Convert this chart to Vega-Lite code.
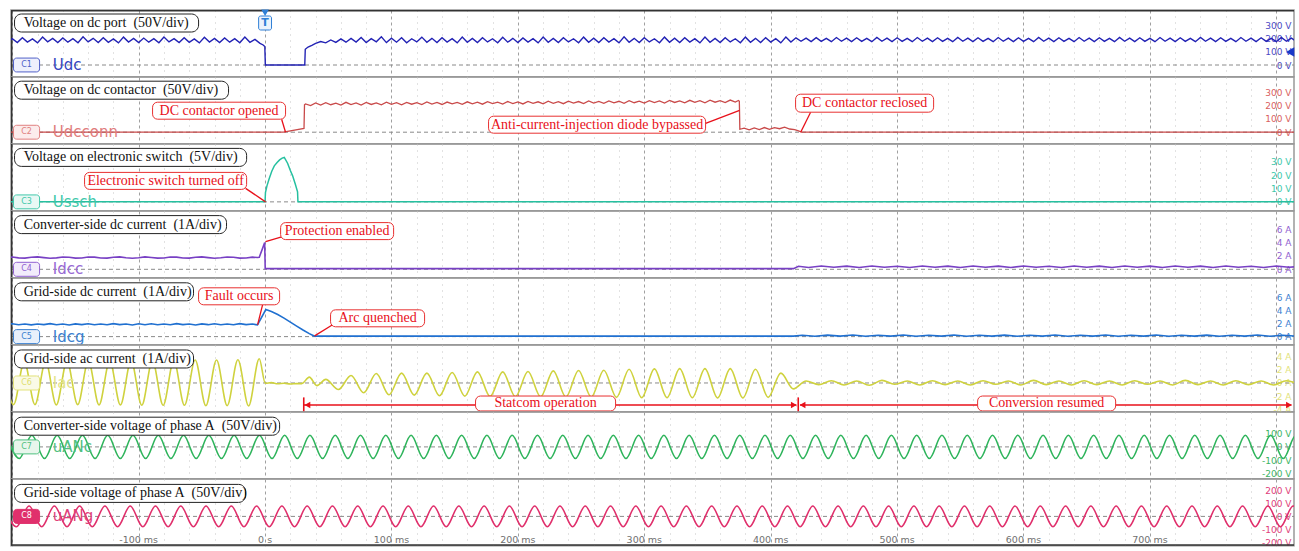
{
"$schema": "https://vega.github.io/schema/vega-lite/v6.json",
"background": "white",
"padding": {"left": 8, "top": 8, "right": 8, "bottom": 8},
"spacing": 0,
"bounds": "flush",
"config": {"view": {"stroke": "#999999", "strokeWidth": 1.5}},
"datasets": {
"udc": [{"t":-204,"v":170},{"t":-200,"v":198},{"t":-196,"v":168},{"t":-192,"v":205},{"t":-188,"v":172},{"t":-184,"v":196},{"t":-180,"v":166},{"t":-176,"v":210},{"t":-172,"v":174},{"t":-168,"v":199},{"t":-164,"v":169},{"t":-160,"v":203},{"t":-156,"v":171},{"t":-152,"v":197},{"t":-148,"v":167},{"t":-144,"v":211},{"t":-140,"v":173},{"t":-136,"v":200},{"t":-132,"v":168},{"t":-128,"v":204},{"t":-124,"v":170},{"t":-120,"v":196},{"t":-116,"v":166},{"t":-112,"v":209},{"t":-108,"v":172},{"t":-104,"v":199},{"t":-100,"v":169},{"t":-96,"v":202},{"t":-92,"v":171},{"t":-88,"v":197},{"t":-84,"v":167},{"t":-80,"v":210},{"t":-76,"v":173},{"t":-72,"v":198},{"t":-68,"v":168},{"t":-64,"v":205},{"t":-60,"v":170},{"t":-56,"v":196},{"t":-52,"v":166},{"t":-48,"v":208},{"t":-44,"v":172},{"t":-40,"v":199},{"t":-36,"v":169},{"t":-32,"v":203},{"t":-28,"v":171},{"t":-24,"v":197},{"t":-20,"v":167},{"t":-16,"v":209},{"t":-12,"v":170},{"t":-8,"v":192},{"t":-4,"v":162},{"t":-1.5,"v":150},{"t":-0.2,"v":138},{"t":0.2,"v":0},{"t":31.4,"v":0},{"t":31.8,"v":118},{"t":34,"v":135},{"t":37,"v":148},{"t":40,"v":162},{"t":44,"v":176},{"t":48,"v":166},{"t":52,"v":188},{"t":56,"v":170},{"t":60,"v":196},{"t":64,"v":171},{"t":68,"v":200},{"t":72,"v":172},{"t":76,"v":206},{"t":80,"v":169},{"t":84,"v":198},{"t":88,"v":174},{"t":92,"v":211},{"t":96,"v":168},{"t":100,"v":201},{"t":104,"v":171},{"t":108,"v":204},{"t":112,"v":167},{"t":116,"v":197},{"t":120,"v":173},{"t":124,"v":209},{"t":128,"v":170},{"t":132,"v":200},{"t":136,"v":168},{"t":140,"v":205},{"t":144,"v":172},{"t":148,"v":198},{"t":152,"v":166},{"t":156,"v":210},{"t":160,"v":171},{"t":164,"v":199},{"t":168,"v":169},{"t":172,"v":204},{"t":176,"v":173},{"t":180,"v":197},{"t":184,"v":167},{"t":188,"v":208},{"t":192,"v":171},{"t":196,"v":200},{"t":200,"v":169},{"t":204,"v":203},{"t":208,"v":172},{"t":212,"v":198},{"t":216,"v":166},{"t":220,"v":210},{"t":224,"v":170},{"t":228,"v":199},{"t":232,"v":168},{"t":236,"v":205},{"t":240,"v":173},{"t":244,"v":197},{"t":248,"v":167},{"t":252,"v":209},{"t":256,"v":171},{"t":260,"v":201},{"t":264,"v":169},{"t":268,"v":204},{"t":272,"v":172},{"t":276,"v":198},{"t":280,"v":166},{"t":284,"v":211},{"t":288,"v":170},{"t":292,"v":200},{"t":296,"v":168},{"t":300,"v":205},{"t":304,"v":173},{"t":308,"v":197},{"t":312,"v":167},{"t":316,"v":209},{"t":320,"v":171},{"t":324,"v":201},{"t":328,"v":169},{"t":332,"v":204},{"t":336,"v":172},{"t":340,"v":198},{"t":344,"v":166},{"t":348,"v":210},{"t":352,"v":170},{"t":356,"v":199},{"t":360,"v":168},{"t":364,"v":205},{"t":368,"v":173},{"t":372,"v":197},{"t":376,"v":167},{"t":380,"v":209},{"t":384,"v":171},{"t":388,"v":200},{"t":392,"v":169},{"t":396,"v":204},{"t":400,"v":172},{"t":404,"v":198},{"t":408,"v":166},{"t":412,"v":210},{"t":416,"v":172},{"t":420,"v":204},{"t":424,"v":178},{"t":428,"v":202},{"t":432,"v":176},{"t":436,"v":205},{"t":440,"v":177},{"t":444,"v":200},{"t":448,"v":175},{"t":452,"v":206},{"t":456,"v":178},{"t":460,"v":201},{"t":464,"v":176},{"t":468,"v":204},{"t":472,"v":177},{"t":476,"v":200},{"t":480,"v":175},{"t":484,"v":207},{"t":488,"v":178},{"t":492,"v":201},{"t":496,"v":176},{"t":500,"v":204},{"t":504,"v":177},{"t":508,"v":200},{"t":512,"v":175},{"t":516,"v":206},{"t":520,"v":178},{"t":524,"v":201},{"t":528,"v":176},{"t":532,"v":204},{"t":536,"v":177},{"t":540,"v":200},{"t":544,"v":175},{"t":548,"v":207},{"t":552,"v":178},{"t":556,"v":201},{"t":560,"v":176},{"t":564,"v":204},{"t":568,"v":177},{"t":572,"v":200},{"t":576,"v":175},{"t":580,"v":206},{"t":584,"v":178},{"t":588,"v":201},{"t":592,"v":176},{"t":596,"v":204},{"t":600,"v":177},{"t":604,"v":200},{"t":608,"v":175},{"t":612,"v":207},{"t":616,"v":178},{"t":620,"v":201},{"t":624,"v":176},{"t":628,"v":204},{"t":632,"v":177},{"t":636,"v":200},{"t":640,"v":175},{"t":644,"v":206},{"t":648,"v":178},{"t":652,"v":201},{"t":656,"v":176},{"t":660,"v":204},{"t":664,"v":177},{"t":668,"v":200},{"t":672,"v":175},{"t":676,"v":207},{"t":680,"v":178},{"t":684,"v":201},{"t":688,"v":176},{"t":692,"v":204},{"t":696,"v":177},{"t":700,"v":200},{"t":704,"v":175},{"t":708,"v":206},{"t":712,"v":178},{"t":716,"v":201},{"t":720,"v":176},{"t":724,"v":204},{"t":728,"v":177},{"t":732,"v":200},{"t":736,"v":175},{"t":740,"v":207},{"t":744,"v":178},{"t":748,"v":201},{"t":752,"v":176},{"t":756,"v":204},{"t":760,"v":177},{"t":764,"v":200},{"t":768,"v":175},{"t":772,"v":206},{"t":776,"v":178},{"t":780,"v":201},{"t":784,"v":176},{"t":788,"v":204},{"t":792,"v":177},{"t":796,"v":200},{"t":800,"v":175},{"t":804,"v":207},{"t":808,"v":178},{"t":812,"v":201},{"t":816,"v":176}],
"udcc": [{"t":-205,"v":0},{"t":14.5,"v":0},{"t":30.8,"v":28},{"t":31.2,"v":205},{"t":32,"v":212},{"t":36,"v":200},{"t":40,"v":220},{"t":44,"v":204},{"t":48,"v":222},{"t":52,"v":206},{"t":56,"v":218},{"t":60,"v":203},{"t":64,"v":224},{"t":68,"v":207},{"t":72,"v":219},{"t":76,"v":204},{"t":80,"v":223},{"t":84,"v":208},{"t":88,"v":220},{"t":92,"v":205},{"t":96,"v":225},{"t":100,"v":209},{"t":104,"v":221},{"t":108,"v":206},{"t":112,"v":224},{"t":116,"v":210},{"t":120,"v":222},{"t":124,"v":207},{"t":128,"v":227},{"t":132,"v":211},{"t":136,"v":223},{"t":140,"v":208},{"t":144,"v":226},{"t":148,"v":212},{"t":152,"v":224},{"t":156,"v":209},{"t":160,"v":228},{"t":164,"v":213},{"t":168,"v":225},{"t":172,"v":210},{"t":176,"v":229},{"t":180,"v":214},{"t":184,"v":226},{"t":188,"v":211},{"t":192,"v":230},{"t":196,"v":215},{"t":200,"v":227},{"t":204,"v":212},{"t":208,"v":231},{"t":212,"v":216},{"t":216,"v":228},{"t":220,"v":213},{"t":224,"v":232},{"t":228,"v":217},{"t":232,"v":229},{"t":236,"v":214},{"t":240,"v":233},{"t":244,"v":218},{"t":248,"v":230},{"t":252,"v":215},{"t":256,"v":234},{"t":260,"v":219},{"t":264,"v":231},{"t":268,"v":216},{"t":272,"v":235},{"t":276,"v":220},{"t":280,"v":232},{"t":284,"v":217},{"t":288,"v":236},{"t":292,"v":221},{"t":296,"v":233},{"t":300,"v":218},{"t":304,"v":237},{"t":308,"v":222},{"t":312,"v":234},{"t":316,"v":219},{"t":320,"v":238},{"t":324,"v":223},{"t":328,"v":235},{"t":332,"v":220},{"t":336,"v":239},{"t":340,"v":224},{"t":344,"v":236},{"t":348,"v":221},{"t":352,"v":240},{"t":356,"v":225},{"t":360,"v":237},{"t":364,"v":222},{"t":368,"v":241},{"t":372,"v":226},{"t":374.5,"v":238},{"t":375.2,"v":232},{"t":375.6,"v":22},{"t":379,"v":30},{"t":383,"v":18},{"t":387,"v":32},{"t":391,"v":20},{"t":395,"v":35},{"t":399,"v":22},{"t":403,"v":34},{"t":407,"v":26},{"t":411,"v":38},{"t":415,"v":24},{"t":419,"v":20},{"t":422,"v":10},{"t":424.5,"v":0},{"t":816,"v":0}],
"ussch": [{"t":-205,"v":0},{"t":0,"v":0},{"t":0.3,"v":7},{"t":1.5,"v":12},{"t":3.3,"v":17.5},{"t":5.3,"v":23},{"t":7.3,"v":27},{"t":9.5,"v":29.5},{"t":11.5,"v":31.5},{"t":13.5,"v":32.8},{"t":15.2,"v":33.3},{"t":17.8,"v":29},{"t":20,"v":23.5},{"t":21.8,"v":19.5},{"t":24,"v":13},{"t":25.7,"v":7.5},{"t":26,"v":0},{"t":816,"v":0}],
"idcc": [{"t":-205,"v":1.75},{"t":-200,"v":1.85},{"t":-195,"v":1.72},{"t":-190,"v":1.68},{"t":-185,"v":1.8},{"t":-180,"v":1.86},{"t":-175,"v":1.75},{"t":-170,"v":1.66},{"t":-165,"v":1.72},{"t":-160,"v":1.85},{"t":-155,"v":1.8},{"t":-150,"v":1.68},{"t":-145,"v":1.7},{"t":-140,"v":1.84},{"t":-135,"v":1.82},{"t":-130,"v":1.69},{"t":-125,"v":1.68},{"t":-120,"v":1.8},{"t":-115,"v":1.86},{"t":-110,"v":1.74},{"t":-105,"v":1.66},{"t":-100,"v":1.74},{"t":-95,"v":1.86},{"t":-90,"v":1.78},{"t":-85,"v":1.67},{"t":-80,"v":1.7},{"t":-75,"v":1.84},{"t":-70,"v":1.83},{"t":-65,"v":1.7},{"t":-60,"v":1.67},{"t":-55,"v":1.8},{"t":-50,"v":1.86},{"t":-45,"v":1.75},{"t":-40,"v":1.66},{"t":-35,"v":1.73},{"t":-30,"v":1.85},{"t":-25,"v":1.8},{"t":-20,"v":1.68},{"t":-15,"v":1.7},{"t":-10,"v":1.82},{"t":-6,"v":1.76},{"t":-4.6,"v":1.8},{"t":-0.3,"v":4.0},{"t":0.1,"v":0.1},{"t":418,"v":0.1},{"t":422,"v":0.45},{"t":430,"v":0.28},{"t":440,"v":0.5},{"t":450,"v":0.3},{"t":460,"v":0.48},{"t":470,"v":0.26},{"t":480,"v":0.5},{"t":490,"v":0.3},{"t":500,"v":0.46},{"t":510,"v":0.28},{"t":520,"v":0.5},{"t":530,"v":0.3},{"t":540,"v":0.48},{"t":550,"v":0.27},{"t":560,"v":0.5},{"t":570,"v":0.3},{"t":580,"v":0.47},{"t":590,"v":0.28},{"t":600,"v":0.5},{"t":610,"v":0.3},{"t":620,"v":0.46},{"t":630,"v":0.27},{"t":640,"v":0.5},{"t":650,"v":0.3},{"t":660,"v":0.48},{"t":670,"v":0.28},{"t":680,"v":0.5},{"t":690,"v":0.3},{"t":700,"v":0.47},{"t":710,"v":0.27},{"t":720,"v":0.5},{"t":730,"v":0.3},{"t":740,"v":0.48},{"t":750,"v":0.28},{"t":760,"v":0.5},{"t":770,"v":0.3},{"t":780,"v":0.46},{"t":790,"v":0.28},{"t":800,"v":0.5},{"t":810,"v":0.3},{"t":816,"v":0.4}],
"idcg": [{"t":-205,"v":1.85},{"t":-200,"v":1.95},{"t":-195,"v":1.8},{"t":-190,"v":1.92},{"t":-185,"v":1.78},{"t":-180,"v":1.9},{"t":-175,"v":1.82},{"t":-170,"v":1.96},{"t":-165,"v":1.8},{"t":-160,"v":1.9},{"t":-155,"v":1.76},{"t":-150,"v":1.93},{"t":-145,"v":1.82},{"t":-140,"v":1.95},{"t":-135,"v":1.79},{"t":-130,"v":1.9},{"t":-125,"v":1.8},{"t":-120,"v":1.96},{"t":-115,"v":1.82},{"t":-110,"v":1.9},{"t":-105,"v":1.77},{"t":-100,"v":1.94},{"t":-95,"v":1.81},{"t":-90,"v":1.95},{"t":-85,"v":1.79},{"t":-80,"v":1.9},{"t":-75,"v":1.8},{"t":-70,"v":1.96},{"t":-65,"v":1.82},{"t":-60,"v":1.9},{"t":-55,"v":1.77},{"t":-50,"v":1.93},{"t":-45,"v":1.81},{"t":-40,"v":1.95},{"t":-35,"v":1.79},{"t":-30,"v":1.9},{"t":-25,"v":1.8},{"t":-20,"v":1.96},{"t":-15,"v":1.82},{"t":-10,"v":1.9},{"t":-6,"v":1.78},{"t":0.6,"v":4.1},{"t":5,"v":3.8},{"t":10,"v":3.35},{"t":15,"v":2.8},{"t":20,"v":2.2},{"t":25,"v":1.6},{"t":30,"v":1.0},{"t":35,"v":0.45},{"t":38.9,"v":0.08},{"t":418,"v":0.08},{"t":425,"v":0.2},{"t":435,"v":0.05},{"t":445,"v":0.22},{"t":455,"v":0.08},{"t":465,"v":0.25},{"t":475,"v":0.05},{"t":485,"v":0.2},{"t":495,"v":0.08},{"t":505,"v":0.24},{"t":515,"v":0.06},{"t":525,"v":0.2},{"t":535,"v":0.08},{"t":545,"v":0.25},{"t":555,"v":0.05},{"t":565,"v":0.2},{"t":575,"v":0.08},{"t":585,"v":0.23},{"t":595,"v":0.06},{"t":605,"v":0.2},{"t":615,"v":0.08},{"t":625,"v":0.25},{"t":635,"v":0.05},{"t":645,"v":0.2},{"t":655,"v":0.08},{"t":665,"v":0.24},{"t":675,"v":0.06},{"t":685,"v":0.2},{"t":695,"v":0.08},{"t":705,"v":0.25},{"t":715,"v":0.05},{"t":725,"v":0.2},{"t":735,"v":0.08},{"t":745,"v":0.23},{"t":755,"v":0.06},{"t":765,"v":0.2},{"t":775,"v":0.08},{"t":785,"v":0.25},{"t":795,"v":0.05},{"t":805,"v":0.2},{"t":815,"v":0.08}],
"iac": [{"t":-207.4,"v":3.2},{"t":-198.95,"v":-3.3},{"t":-190.5,"v":3.25},{"t":-182.05,"v":-3.3},{"t":-173.6,"v":3.3},{"t":-165.15,"v":-3.35},{"t":-156.7,"v":3.3},{"t":-148.25,"v":-3.3},{"t":-139.8,"v":3.35},{"t":-131.35,"v":-3.35},{"t":-122.9,"v":3.35},{"t":-114.45,"v":-3.35},{"t":-106,"v":3.4},{"t":-97.55,"v":-3.4},{"t":-89.1,"v":3.4},{"t":-80.65,"v":-3.4},{"t":-72.2,"v":3.45},{"t":-63.75,"v":-3.4},{"t":-55.3,"v":3.5},{"t":-46.85,"v":-3.45},{"t":-38.4,"v":3.5},{"t":-29.95,"v":-3.45},{"t":-21.5,"v":3.55},{"t":-13.05,"v":-3.5},{"t":-4.6,"v":3.7},{"t":0.2,"v":-0.05},{"t":5,"v":0.05},{"t":10,"v":-0.12},{"t":15,"v":-0.05},{"t":20,"v":-0.15},{"t":25,"v":-0.1},{"t":29,"v":-0.1},{"t":35,"v":0.9},{"t":41,"v":-0.4},{"t":48,"v":0.55},{"t":58,"v":-1.0},{"t":68,"v":1.15},{"t":78,"v":-1.5},{"t":88,"v":1.45},{"t":98,"v":-1.8},{"t":108,"v":1.5},{"t":118,"v":-1.85},{"t":128,"v":1.5},{"t":138,"v":-1.95},{"t":148,"v":1.6},{"t":158,"v":-2.0},{"t":168,"v":1.7},{"t":178,"v":-2.05},{"t":188,"v":1.7},{"t":198,"v":-2.1},{"t":208,"v":1.75},{"t":218,"v":-2.1},{"t":228,"v":1.85},{"t":238,"v":-2.15},{"t":248,"v":1.9},{"t":258,"v":-2.15},{"t":268,"v":1.95},{"t":278,"v":-2.2},{"t":288,"v":2.1},{"t":298,"v":-2.25},{"t":308,"v":2.15},{"t":318,"v":-2.25},{"t":328,"v":2.2},{"t":338,"v":-2.25},{"t":348,"v":2.2},{"t":358,"v":-2.3},{"t":368,"v":2.2},{"t":378,"v":-2.3},{"t":388,"v":2.1},{"t":398,"v":-2.2},{"t":408,"v":1.5},{"t":418,"v":-0.9},{"t":428,"v":0.3},{"t":438,"v":-0.25},{"t":448,"v":0.35},{"t":458,"v":-0.3},{"t":468,"v":0.3},{"t":478,"v":-0.35},{"t":488,"v":0.4},{"t":498,"v":-0.2},{"t":508,"v":0.3},{"t":518,"v":-0.3},{"t":528,"v":0.35},{"t":538,"v":-0.25},{"t":548,"v":0.3},{"t":558,"v":-0.3},{"t":568,"v":0.35},{"t":578,"v":-0.2},{"t":588,"v":0.3},{"t":598,"v":-0.3},{"t":608,"v":0.4},{"t":618,"v":-0.25},{"t":628,"v":0.3},{"t":638,"v":-0.3},{"t":648,"v":0.35},{"t":658,"v":-0.25},{"t":668,"v":0.3},{"t":678,"v":-0.3},{"t":688,"v":0.35},{"t":698,"v":-0.2},{"t":708,"v":0.3},{"t":718,"v":-0.3},{"t":728,"v":0.4},{"t":738,"v":-0.25},{"t":748,"v":0.3},{"t":758,"v":-0.3},{"t":768,"v":0.35},{"t":778,"v":-0.25},{"t":788,"v":0.3},{"t":798,"v":-0.3},{"t":808,"v":0.35},{"t":818,"v":-0.25}],
"uanc": [{"t":-204.5,"v":88},{"t":-194.5,"v":-88},{"t":-184.5,"v":88},{"t":-174.5,"v":-88},{"t":-164.5,"v":88},{"t":-154.5,"v":-88},{"t":-144.5,"v":88},{"t":-134.5,"v":-88},{"t":-124.5,"v":88},{"t":-114.5,"v":-88},{"t":-104.5,"v":88},{"t":-94.5,"v":-88},{"t":-84.5,"v":88},{"t":-74.5,"v":-88},{"t":-64.5,"v":88},{"t":-54.5,"v":-88},{"t":-44.5,"v":88},{"t":-34.5,"v":-88},{"t":-24.5,"v":88},{"t":-14.5,"v":-88},{"t":-4.5,"v":88},{"t":5.5,"v":-88},{"t":15.5,"v":88},{"t":25.5,"v":-88},{"t":35.5,"v":88},{"t":45.5,"v":-88},{"t":55.5,"v":88},{"t":65.5,"v":-88},{"t":75.5,"v":88},{"t":85.5,"v":-88},{"t":95.5,"v":88},{"t":105.5,"v":-88},{"t":115.5,"v":88},{"t":125.5,"v":-88},{"t":135.5,"v":88},{"t":145.5,"v":-88},{"t":155.5,"v":88},{"t":165.5,"v":-88},{"t":175.5,"v":88},{"t":185.5,"v":-88},{"t":195.5,"v":88},{"t":205.5,"v":-88},{"t":215.5,"v":88},{"t":225.5,"v":-88},{"t":235.5,"v":88},{"t":245.5,"v":-88},{"t":255.5,"v":88},{"t":265.5,"v":-88},{"t":275.5,"v":88},{"t":285.5,"v":-88},{"t":295.5,"v":88},{"t":305.5,"v":-88},{"t":315.5,"v":88},{"t":325.5,"v":-88},{"t":335.5,"v":88},{"t":345.5,"v":-88},{"t":355.5,"v":88},{"t":365.5,"v":-88},{"t":375.5,"v":88},{"t":385.5,"v":-88},{"t":395.5,"v":88},{"t":405.5,"v":-88},{"t":415.5,"v":88},{"t":425.5,"v":-88},{"t":435.5,"v":88},{"t":445.5,"v":-88},{"t":455.5,"v":88},{"t":465.5,"v":-88},{"t":475.5,"v":88},{"t":485.5,"v":-88},{"t":495.5,"v":88},{"t":505.5,"v":-88},{"t":515.5,"v":88},{"t":525.5,"v":-88},{"t":535.5,"v":88},{"t":545.5,"v":-88},{"t":555.5,"v":88},{"t":565.5,"v":-88},{"t":575.5,"v":88},{"t":585.5,"v":-88},{"t":595.5,"v":88},{"t":605.5,"v":-88},{"t":615.5,"v":88},{"t":625.5,"v":-88},{"t":635.5,"v":88},{"t":645.5,"v":-88},{"t":655.5,"v":88},{"t":665.5,"v":-88},{"t":675.5,"v":88},{"t":685.5,"v":-88},{"t":695.5,"v":88},{"t":705.5,"v":-88},{"t":715.5,"v":88},{"t":725.5,"v":-88},{"t":735.5,"v":88},{"t":745.5,"v":-88},{"t":755.5,"v":88},{"t":765.5,"v":-88},{"t":775.5,"v":88},{"t":785.5,"v":-88},{"t":795.5,"v":88},{"t":805.5,"v":-88},{"t":815.5,"v":88},{"t":825.5,"v":-88}],
"uang": [{"t":-206.7,"v":80},{"t":-196.7,"v":-80},{"t":-186.7,"v":80},{"t":-176.7,"v":-80},{"t":-166.7,"v":80},{"t":-156.7,"v":-80},{"t":-146.7,"v":80},{"t":-136.7,"v":-80},{"t":-126.7,"v":80},{"t":-116.7,"v":-80},{"t":-106.7,"v":80},{"t":-96.7,"v":-80},{"t":-86.7,"v":80},{"t":-76.7,"v":-80},{"t":-66.7,"v":80},{"t":-56.7,"v":-80},{"t":-46.7,"v":80},{"t":-36.7,"v":-80},{"t":-26.7,"v":80},{"t":-16.7,"v":-80},{"t":-6.7,"v":80},{"t":3.3,"v":-80},{"t":13.3,"v":80},{"t":23.3,"v":-80},{"t":33.3,"v":80},{"t":43.3,"v":-80},{"t":53.3,"v":80},{"t":63.3,"v":-80},{"t":73.3,"v":80},{"t":83.3,"v":-80},{"t":93.3,"v":80},{"t":103.3,"v":-80},{"t":113.3,"v":80},{"t":123.3,"v":-80},{"t":133.3,"v":80},{"t":143.3,"v":-80},{"t":153.3,"v":80},{"t":163.3,"v":-80},{"t":173.3,"v":80},{"t":183.3,"v":-80},{"t":193.3,"v":80},{"t":203.3,"v":-80},{"t":213.3,"v":80},{"t":223.3,"v":-80},{"t":233.3,"v":80},{"t":243.3,"v":-80},{"t":253.3,"v":80},{"t":263.3,"v":-80},{"t":273.3,"v":80},{"t":283.3,"v":-80},{"t":293.3,"v":80},{"t":303.3,"v":-80},{"t":313.3,"v":80},{"t":323.3,"v":-80},{"t":333.3,"v":80},{"t":343.3,"v":-80},{"t":353.3,"v":80},{"t":363.3,"v":-80},{"t":373.3,"v":80},{"t":383.3,"v":-80},{"t":393.3,"v":80},{"t":403.3,"v":-80},{"t":413.3,"v":80},{"t":423.3,"v":-80},{"t":433.3,"v":80},{"t":443.3,"v":-80},{"t":453.3,"v":80},{"t":463.3,"v":-80},{"t":473.3,"v":80},{"t":483.3,"v":-80},{"t":493.3,"v":80},{"t":503.3,"v":-80},{"t":513.3,"v":80},{"t":523.3,"v":-80},{"t":533.3,"v":80},{"t":543.3,"v":-80},{"t":553.3,"v":80},{"t":563.3,"v":-80},{"t":573.3,"v":80},{"t":583.3,"v":-80},{"t":593.3,"v":80},{"t":603.3,"v":-80},{"t":613.3,"v":80},{"t":623.3,"v":-80},{"t":633.3,"v":80},{"t":643.3,"v":-80},{"t":653.3,"v":80},{"t":663.3,"v":-80},{"t":673.3,"v":80},{"t":683.3,"v":-80},{"t":693.3,"v":80},{"t":703.3,"v":-80},{"t":713.3,"v":80},{"t":723.3,"v":-80},{"t":733.3,"v":80},{"t":743.3,"v":-80},{"t":753.3,"v":80},{"t":763.3,"v":-80},{"t":773.3,"v":80},{"t":783.3,"v":-80},{"t":793.3,"v":80},{"t":803.3,"v":-80},{"t":813.3,"v":80},{"t":823.3,"v":-80}]
},
"vconcat": [
{"width": 1283, "height": 66.8,
"encoding": {
"x": {"field": "t", "type": "quantitative", "scale": {"domain": [-201, 814], "nice": false, "zero": false}, "axis": {"tickCount": 51, "labels": false, "ticks": false, "domain": false, "title": null, "grid": true, "gridColor": {"condition": {"test": "datum.value % 100 === 0", "value": "#a0a0a0"}, "value": "#c4c4c4"}, "gridDash": {"condition": {"test": "datum.value % 100 === 0", "value": [3, 3]}, "value": [1, 5]}}},
"y": {"field": "v", "type": "quantitative", "scale": {"domain": [-88.5, 412.5], "nice": false, "zero": false}, "axis": {"orient": "right", "offset": -3, "values": [0, 100, 200, 300], "labelExpr": "datum.value + ' V'", "labelAlign": "right", "labelPadding": 0, "ticks": false, "domain": false, "grid": false, "title": null, "labelColor": "#4a4ac4", "labelFont": "DejaVu Sans", "labelFontSize": 9, "labelOverlap": false}}},
"layer": [
{"data": {"values": [{"t": -201, "v": 0}, {"t": 814, "v": 0}]}, "mark": {"type": "line", "color": "#8a8a8a", "strokeDash": [4, 3], "strokeWidth": 1}},
{"data": {"values": [{"t": -201, "v": -88.5, "g": "a"}, {"t": -201, "v": 412.5, "g": "a"}, {"t": -201, "v": 412.5, "g": "b"}, {"t": 814, "v": 412.5, "g": "b"}]}, "mark": {"type": "line", "color": "#333", "strokeWidth": 3, "clip": true}, "encoding": {"detail": {"field": "g", "type": "nominal"}}},
{"data": {"name": "udc"}, "mark": {"type": "line", "color": "#2222b4", "strokeWidth": 1.4, "clip": true}},
{"data": {"values": [{"t": -198.2, "t2": -52.6, "v": 382.5, "v2": 247.5}]}, "mark": {"type": "rect", "fill": "white", "stroke": "#222", "strokeWidth": 1, "cornerRadius": 7}, "encoding": {"x2": {"field": "t2"}, "y2": {"field": "v2"}}},
{"data": {"values": [{"t": -191, "v": 315, "s": "Voltage on dc port\u00a0 (50V/div)"}]}, "mark": {"type": "text", "align": "left", "baseline": "middle", "font": "Liberation Serif", "fontSize": 14, "color": "#111"}, "encoding": {"text": {"field": "s", "type": "nominal"}}},
{"data": {"values": [{"t": -199, "t2": -178.4, "v": 52, "v2": -52}]}, "mark": {"type": "rect", "fill": "#eef0fc", "stroke": "#5060c8", "strokeWidth": 1, "cornerRadius": 3}, "encoding": {"x2": {"field": "t2"}, "y2": {"field": "v2"}}},
{"data": {"values": [{"t": -188.7, "v": 0, "s": "C1"}]}, "mark": {"type": "text", "align": "center", "baseline": "middle", "font": "DejaVu Sans", "fontSize": 8, "color": "#5060c8"}, "encoding": {"text": {"field": "s", "type": "nominal"}}},
{"data": {"values": [{"t": -168, "v": 0, "s": "Udc"}]}, "mark": {"type": "text", "align": "left", "baseline": "middle", "font": "DejaVu Sans", "fontSize": 15, "color": "#3344c0"}, "encoding": {"text": {"field": "s", "type": "nominal"}}},
{"data": {"values": [{"t": -5.1, "t2": 5.1, "v": 367.5, "v2": 262.5}]}, "mark": {"type": "rect", "fill": "#eaf2fc", "stroke": "#2f7fd6", "strokeWidth": 1, "cornerRadius": 2}, "encoding": {"x2": {"field": "t2"}, "y2": {"field": "v2"}}},
{"data": {"values": [{"t": 0, "v": 315, "s": "T"}]}, "mark": {"type": "text", "align": "center", "baseline": "middle", "font": "DejaVu Sans", "fontSize": 11, "fontWeight": "bold", "color": "#2f7fd6"}, "encoding": {"text": {"field": "s", "type": "nominal"}}},
{"data": {"values": [{"t": 0, "v": 392}]}, "mark": {"type": "point", "shape": "triangle-down", "filled": true, "size": 60, "color": "#2f7fd6", "opacity": 1}},
{"data": {"values": [{"t": 811, "v": 97.5}]}, "mark": {"type": "point", "shape": "triangle-left", "filled": true, "size": 90, "color": "#1838c8", "opacity": 1}}
]},
{"width": 1283, "height": 66.8,
"encoding": {
"x": {"field": "t", "type": "quantitative", "scale": {"domain": [-201, 814], "nice": false, "zero": false}, "axis": {"tickCount": 51, "labels": false, "ticks": false, "domain": false, "title": null, "grid": true, "gridColor": {"condition": {"test": "datum.value % 100 === 0", "value": "#a0a0a0"}, "value": "#c4c4c4"}, "gridDash": {"condition": {"test": "datum.value % 100 === 0", "value": [3, 3]}, "value": [1, 5]}}},
"y": {"field": "v", "type": "quantitative", "scale": {"domain": [-87, 414], "nice": false, "zero": false}, "axis": {"orient": "right", "offset": -3, "values": [0, 100, 200, 300], "labelExpr": "datum.value + ' V'", "labelAlign": "right", "labelPadding": 0, "ticks": false, "domain": false, "grid": false, "title": null, "labelColor": "#d96060", "labelFont": "DejaVu Sans", "labelFontSize": 9, "labelOverlap": false}}},
"layer": [
{"data": {"values": [{"t": -201, "v": 0}, {"t": 814, "v": 0}]}, "mark": {"type": "line", "color": "#8a8a8a", "strokeDash": [4, 3], "strokeWidth": 1}},
{"data": {"values": [{"t": -201, "v": -87}, {"t": -201, "v": 414}]}, "mark": {"type": "line", "color": "#333", "strokeWidth": 3, "clip": true}},
{"data": {"name": "udcc"}, "mark": {"type": "line", "color": "#c94a4a", "strokeWidth": 1.3, "clip": true}},
{"data": {"values": [{"t": -198.2, "t2": -28.9, "v": 382.5, "v2": 247.5}]}, "mark": {"type": "rect", "fill": "white", "stroke": "#222", "strokeWidth": 1, "cornerRadius": 7}, "encoding": {"x2": {"field": "t2"}, "y2": {"field": "v2"}}},
{"data": {"values": [{"t": -191, "v": 315, "s": "Voltage on dc contactor\u00a0 (50V/div)"}]}, "mark": {"type": "text", "align": "left", "baseline": "middle", "font": "Liberation Serif", "fontSize": 14, "color": "#111"}, "encoding": {"text": {"field": "s", "type": "nominal"}}},
{"data": {"values": [{"t": -199, "t2": -178.4, "v": 52, "v2": -52}]}, "mark": {"type": "rect", "fill": "#fcecec", "stroke": "#e08080", "strokeWidth": 1, "cornerRadius": 3}, "encoding": {"x2": {"field": "t2"}, "y2": {"field": "v2"}}},
{"data": {"values": [{"t": -188.7, "v": 0, "s": "C2"}]}, "mark": {"type": "text", "align": "center", "baseline": "middle", "font": "DejaVu Sans", "fontSize": 8, "color": "#e08080"}, "encoding": {"text": {"field": "s", "type": "nominal"}}},
{"data": {"values": [{"t": -168, "v": 0, "s": "Udcconn"}]}, "mark": {"type": "text", "align": "left", "baseline": "middle", "font": "DejaVu Sans", "fontSize": 15, "color": "#e07c7c"}, "encoding": {"text": {"field": "s", "type": "nominal"}}},
{"data": {"values": [{"t": 13.1, "v": 97.5, "g": "a"}, {"t": 16.2, "v": 0, "g": "a"}, {"t": 348.5, "v": 66, "g": "b"}, {"t": 375.4, "v": 163.5, "g": "b"}, {"t": 431.6, "v": 150, "g": "c"}, {"t": 423.7, "v": 0, "g": "c"}]}, "mark": {"type": "line", "color": "#e8101a", "strokeWidth": 1.3}, "encoding": {"detail": {"field": "g", "type": "nominal"}}},
{"data": {"values": [{"t": -89, "t2": 16.2, "v": 225, "v2": 97.5}, {"t": 176.8, "t2": 348.5, "v": 120, "v2": -7.5}, {"t": 419.7, "t2": 528.9, "v": 285, "v2": 150}]}, "mark": {"type": "rect", "fill": "white", "stroke": "#e83030", "strokeWidth": 1, "cornerRadius": 5}, "encoding": {"x2": {"field": "t2"}, "y2": {"field": "v2"}}},
{"data": {"values": [{"t": -36.4, "v": 161, "s": "DC contactor opened"}, {"t": 262.7, "v": 56, "s": "Anti-current-injection diode bypassed"}, {"t": 474.3, "v": 217.5, "s": "DC contactor reclosed"}]}, "mark": {"type": "text", "align": "center", "baseline": "middle", "font": "Liberation Serif", "fontSize": 14, "color": "#e8101a"}, "encoding": {"text": {"field": "s", "type": "nominal"}}}
]},
{"width": 1283, "height": 66.8,
"encoding": {
"x": {"field": "t", "type": "quantitative", "scale": {"domain": [-201, 814], "nice": false, "zero": false}, "axis": {"tickCount": 51, "labels": false, "ticks": false, "domain": false, "title": null, "grid": true, "gridColor": {"condition": {"test": "datum.value % 100 === 0", "value": "#a0a0a0"}, "value": "#c4c4c4"}, "gridDash": {"condition": {"test": "datum.value % 100 === 0", "value": [3, 3]}, "value": [1, 5]}}},
"y": {"field": "v", "type": "quantitative", "scale": {"domain": [-6.7, 43.4], "nice": false, "zero": false}, "axis": {"orient": "right", "offset": -3, "values": [0, 10, 20, 30], "labelExpr": "datum.value + ' V'", "labelAlign": "right", "labelPadding": 0, "ticks": false, "domain": false, "grid": false, "title": null, "labelColor": "#40c8aa", "labelFont": "DejaVu Sans", "labelFontSize": 9, "labelOverlap": false}}},
"layer": [
{"data": {"values": [{"t": -201, "v": 0}, {"t": 814, "v": 0}]}, "mark": {"type": "line", "color": "#8a8a8a", "strokeDash": [4, 3], "strokeWidth": 1}},
{"data": {"values": [{"t": -201, "v": -6.7}, {"t": -201, "v": 43.4}]}, "mark": {"type": "line", "color": "#333", "strokeWidth": 3, "clip": true}},
{"data": {"name": "ussch"}, "mark": {"type": "line", "color": "#26c0a0", "strokeWidth": 1.5, "clip": true}},
{"data": {"values": [{"t": -198.2, "t2": -14.6, "v": 40.1, "v2": 26.6}]}, "mark": {"type": "rect", "fill": "white", "stroke": "#222", "strokeWidth": 1, "cornerRadius": 7}, "encoding": {"x2": {"field": "t2"}, "y2": {"field": "v2"}}},
{"data": {"values": [{"t": -191, "v": 33.35, "s": "Voltage on electronic switch\u00a0 (5V/div)"}]}, "mark": {"type": "text", "align": "left", "baseline": "middle", "font": "Liberation Serif", "fontSize": 14, "color": "#111"}, "encoding": {"text": {"field": "s", "type": "nominal"}}},
{"data": {"values": [{"t": -199, "t2": -178.4, "v": 5.2, "v2": -5.2}]}, "mark": {"type": "rect", "fill": "#e8f8f4", "stroke": "#40c8aa", "strokeWidth": 1, "cornerRadius": 3}, "encoding": {"x2": {"field": "t2"}, "y2": {"field": "v2"}}},
{"data": {"values": [{"t": -188.7, "v": 0, "s": "C3"}]}, "mark": {"type": "text", "align": "center", "baseline": "middle", "font": "DejaVu Sans", "fontSize": 8, "color": "#40c8aa"}, "encoding": {"text": {"field": "s", "type": "nominal"}}},
{"data": {"values": [{"t": -168, "v": 0, "s": "Ussch"}]}, "mark": {"type": "text", "align": "left", "baseline": "middle", "font": "DejaVu Sans", "fontSize": 15, "color": "#40c8aa"}, "encoding": {"text": {"field": "s", "type": "nominal"}}},
{"data": {"values": [{"t": -15.4, "v": 10.1}, {"t": 0.4, "v": 0}]}, "mark": {"type": "line", "color": "#e8101a", "strokeWidth": 1.3}},
{"data": {"values": [{"t": -142.8, "t2": -14.6, "v": 22.1, "v2": 9.35}]}, "mark": {"type": "rect", "fill": "white", "stroke": "#e83030", "strokeWidth": 1, "cornerRadius": 5}, "encoding": {"x2": {"field": "t2"}, "y2": {"field": "v2"}}},
{"data": {"values": [{"t": -78.7, "v": 15.7, "s": "Electronic switch turned off"}]}, "mark": {"type": "text", "align": "center", "baseline": "middle", "font": "Liberation Serif", "fontSize": 14, "color": "#e8101a"}, "encoding": {"text": {"field": "s", "type": "nominal"}}}
]},
{"width": 1283, "height": 66.8,
"encoding": {
"x": {"field": "t", "type": "quantitative", "scale": {"domain": [-201, 814], "nice": false, "zero": false}, "axis": {"tickCount": 51, "labels": false, "ticks": false, "domain": false, "title": null, "grid": true, "gridColor": {"condition": {"test": "datum.value % 100 === 0", "value": "#a0a0a0"}, "value": "#c4c4c4"}, "gridDash": {"condition": {"test": "datum.value % 100 === 0", "value": [3, 3]}, "value": [1, 5]}}},
"y": {"field": "v", "type": "quantitative", "scale": {"domain": [-1.275, 8.745], "nice": false, "zero": false}, "axis": {"orient": "right", "offset": -3, "values": [0, 2, 4, 6], "labelExpr": "datum.value + ' A'", "labelAlign": "right", "labelPadding": 0, "ticks": false, "domain": false, "grid": false, "title": null, "labelColor": "#9060d0", "labelFont": "DejaVu Sans", "labelFontSize": 9, "labelOverlap": false}}},
"layer": [
{"data": {"values": [{"t": -201, "v": 0}, {"t": 814, "v": 0}]}, "mark": {"type": "line", "color": "#8a8a8a", "strokeDash": [4, 3], "strokeWidth": 1}},
{"data": {"values": [{"t": -201, "v": -1.275}, {"t": -201, "v": 8.745}]}, "mark": {"type": "line", "color": "#333", "strokeWidth": 3, "clip": true}},
{"data": {"name": "idcc"}, "mark": {"type": "line", "color": "#7840c4", "strokeWidth": 1.6, "clip": true}},
{"data": {"values": [{"t": -198.2, "t2": -30.5, "v": 8.055, "v2": 5.355}]}, "mark": {"type": "rect", "fill": "white", "stroke": "#222", "strokeWidth": 1, "cornerRadius": 7}, "encoding": {"x2": {"field": "t2"}, "y2": {"field": "v2"}}},
{"data": {"values": [{"t": -191, "v": 6.705, "s": "Converter-side dc current\u00a0 (1A/div)"}]}, "mark": {"type": "text", "align": "left", "baseline": "middle", "font": "Liberation Serif", "fontSize": 14, "color": "#111"}, "encoding": {"text": {"field": "s", "type": "nominal"}}},
{"data": {"values": [{"t": -199, "t2": -178.4, "v": 1.05, "v2": -1.05}]}, "mark": {"type": "rect", "fill": "#f2ecfb", "stroke": "#9060d0", "strokeWidth": 1, "cornerRadius": 3}, "encoding": {"x2": {"field": "t2"}, "y2": {"field": "v2"}}},
{"data": {"values": [{"t": -188.7, "v": 0, "s": "C4"}]}, "mark": {"type": "text", "align": "center", "baseline": "middle", "font": "DejaVu Sans", "fontSize": 8, "color": "#9060d0"}, "encoding": {"text": {"field": "s", "type": "nominal"}}},
{"data": {"values": [{"t": -168, "v": 0, "s": "Idcc"}]}, "mark": {"type": "text", "align": "left", "baseline": "middle", "font": "DejaVu Sans", "fontSize": 15, "color": "#9868d4"}, "encoding": {"text": {"field": "s", "type": "nominal"}}},
{"data": {"values": [{"t": 13.8, "v": 4.9}, {"t": 0.4, "v": 4.15}]}, "mark": {"type": "line", "color": "#e8101a", "strokeWidth": 1.3}},
{"data": {"values": [{"t": 12.3, "t2": 101.7, "v": 7.005, "v2": 4.455}]}, "mark": {"type": "rect", "fill": "white", "stroke": "#e83030", "strokeWidth": 1, "cornerRadius": 5}, "encoding": {"x2": {"field": "t2"}, "y2": {"field": "v2"}}},
{"data": {"values": [{"t": 57, "v": 5.73, "s": "Protection enabled"}]}, "mark": {"type": "text", "align": "center", "baseline": "middle", "font": "Liberation Serif", "fontSize": 14, "color": "#e8101a"}, "encoding": {"text": {"field": "s", "type": "nominal"}}}
]},
{"width": 1283, "height": 66.8,
"encoding": {
"x": {"field": "t", "type": "quantitative", "scale": {"domain": [-201, 814], "nice": false, "zero": false}, "axis": {"tickCount": 51, "labels": false, "ticks": false, "domain": false, "title": null, "grid": true, "gridColor": {"condition": {"test": "datum.value % 100 === 0", "value": "#a0a0a0"}, "value": "#c4c4c4"}, "gridDash": {"condition": {"test": "datum.value % 100 === 0", "value": [3, 3]}, "value": [1, 5]}}},
"y": {"field": "v", "type": "quantitative", "scale": {"domain": [-1.24, 8.88], "nice": false, "zero": false}, "axis": {"orient": "right", "offset": -3, "values": [0, 2, 4, 6], "labelExpr": "datum.value + ' A'", "labelAlign": "right", "labelPadding": 0, "ticks": false, "domain": false, "grid": false, "title": null, "labelColor": "#3a80d0", "labelFont": "DejaVu Sans", "labelFontSize": 9, "labelOverlap": false}}},
"layer": [
{"data": {"values": [{"t": -201, "v": 0}, {"t": 814, "v": 0}]}, "mark": {"type": "line", "color": "#8a8a8a", "strokeDash": [4, 3], "strokeWidth": 1}},
{"data": {"values": [{"t": -201, "v": -1.24}, {"t": -201, "v": 8.88}]}, "mark": {"type": "line", "color": "#333", "strokeWidth": 3, "clip": true}},
{"data": {"name": "idcg"}, "mark": {"type": "line", "color": "#2070d0", "strokeWidth": 1.6, "clip": true}},
{"data": {"values": [{"t": -198.2, "t2": -56.6, "v": 8.153, "v2": 5.425}]}, "mark": {"type": "rect", "fill": "white", "stroke": "#222", "strokeWidth": 1, "cornerRadius": 7}, "encoding": {"x2": {"field": "t2"}, "y2": {"field": "v2"}}},
{"data": {"values": [{"t": -191, "v": 6.79, "s": "Grid-side dc current\u00a0 (1A/div)"}]}, "mark": {"type": "text", "align": "left", "baseline": "middle", "font": "Liberation Serif", "fontSize": 14, "color": "#111"}, "encoding": {"text": {"field": "s", "type": "nominal"}}},
{"data": {"values": [{"t": -199, "t2": -178.4, "v": 1.06, "v2": -1.06}]}, "mark": {"type": "rect", "fill": "#e8f0fb", "stroke": "#3a80d0", "strokeWidth": 1, "cornerRadius": 3}, "encoding": {"x2": {"field": "t2"}, "y2": {"field": "v2"}}},
{"data": {"values": [{"t": -188.7, "v": 0, "s": "C5"}]}, "mark": {"type": "text", "align": "center", "baseline": "middle", "font": "DejaVu Sans", "fontSize": 8, "color": "#3a80d0"}, "encoding": {"text": {"field": "s", "type": "nominal"}}},
{"data": {"values": [{"t": -168, "v": 0, "s": "Idcg"}]}, "mark": {"type": "text", "align": "left", "baseline": "middle", "font": "DejaVu Sans", "fontSize": 15, "color": "#3a80d0"}, "encoding": {"text": {"field": "s", "type": "nominal"}}},
{"data": {"values": [{"t": -2, "v": 4.82, "g": "a"}, {"t": -5.9, "v": 1.79, "g": "a"}, {"t": 53.4, "v": 1.79, "g": "b"}, {"t": 39.2, "v": 0.12, "g": "b"}]}, "mark": {"type": "line", "color": "#e8101a", "strokeWidth": 1.3}, "encoding": {"detail": {"field": "g", "type": "nominal"}}},
{"data": {"values": [{"t": -52.6, "t2": 11.5, "v": 7.395, "v2": 4.82}, {"t": 51.8, "t2": 126.2, "v": 4.06, "v2": 1.486}]}, "mark": {"type": "rect", "fill": "white", "stroke": "#e83030", "strokeWidth": 1, "cornerRadius": 5}, "encoding": {"x2": {"field": "t2"}, "y2": {"field": "v2"}}},
{"data": {"values": [{"t": -20.6, "v": 6.1, "s": "Fault occurs"}, {"t": 89, "v": 2.77, "s": "Arc quenched"}]}, "mark": {"type": "text", "align": "center", "baseline": "middle", "font": "Liberation Serif", "fontSize": 14, "color": "#e8101a"}, "encoding": {"text": {"field": "s", "type": "nominal"}}}
]},
{"width": 1283, "height": 66.8,
"encoding": {
"x": {"field": "t", "type": "quantitative", "scale": {"domain": [-201, 814], "nice": false, "zero": false}, "axis": {"tickCount": 51, "labels": false, "ticks": false, "domain": false, "title": null, "grid": true, "gridColor": {"condition": {"test": "datum.value % 100 === 0", "value": "#a0a0a0"}, "value": "#c4c4c4"}, "gridDash": {"condition": {"test": "datum.value % 100 === 0", "value": [3, 3]}, "value": [1, 5]}}},
"y": {"field": "v", "type": "quantitative", "scale": {"domain": [-4.4, 5.8], "nice": false, "zero": false}, "axis": {"orient": "right", "offset": -3, "values": [-4, -2, 0, 2, 4], "labelExpr": "datum.value + ' A'", "labelAlign": "right", "labelPadding": 0, "ticks": false, "domain": false, "grid": false, "title": null, "labelColor": "#e2e27a", "labelFont": "DejaVu Sans", "labelFontSize": 9, "labelOverlap": false}}},
"layer": [
{"data": {"values": [{"t": -201, "v": 0}, {"t": 814, "v": 0}]}, "mark": {"type": "line", "color": "#8a8a8a", "strokeDash": [4, 3], "strokeWidth": 1}},
{"data": {"values": [{"t": -201, "v": -4.4}, {"t": -201, "v": 5.8}]}, "mark": {"type": "line", "color": "#333", "strokeWidth": 3, "clip": true}},
{"data": {"name": "iac"}, "mark": {"type": "line", "color": "#cfd23e", "strokeWidth": 1.6, "clip": true, "interpolate": "monotone"}},
{"data": {"values": [{"t": -198.2, "t2": -56.6, "v": 5.04, "v2": 2.29}]}, "mark": {"type": "rect", "fill": "white", "stroke": "#222", "strokeWidth": 1, "cornerRadius": 7}, "encoding": {"x2": {"field": "t2"}, "y2": {"field": "v2"}}},
{"data": {"values": [{"t": -191, "v": 3.66, "s": "Grid-side ac current\u00a0 (1A/div)"}]}, "mark": {"type": "text", "align": "left", "baseline": "middle", "font": "Liberation Serif", "fontSize": 14, "color": "#111"}, "encoding": {"text": {"field": "s", "type": "nominal"}}},
{"data": {"values": [{"t": -199, "t2": -178.4, "v": 1.07, "v2": -1.07}]}, "mark": {"type": "rect", "fill": "#fafae6", "stroke": "#e2e27a", "strokeWidth": 1, "cornerRadius": 3}, "encoding": {"x2": {"field": "t2"}, "y2": {"field": "v2"}}},
{"data": {"values": [{"t": -188.7, "v": 0, "s": "C6"}]}, "mark": {"type": "text", "align": "center", "baseline": "middle", "font": "DejaVu Sans", "fontSize": 8, "color": "#dede70"}, "encoding": {"text": {"field": "s", "type": "nominal"}}},
{"data": {"values": [{"t": -168, "v": 0, "s": "Iac"}]}, "mark": {"type": "text", "align": "left", "baseline": "middle", "font": "DejaVu Sans", "fontSize": 15, "color": "#e4e488"}, "encoding": {"text": {"field": "s", "type": "nominal"}}},
{"data": {"values": [{"t": 30.6, "v": -3.36, "g": "a"}, {"t": 420.3, "v": -3.36, "g": "a"}, {"t": 423.2, "v": -3.36, "g": "b"}, {"t": 812, "v": -3.36, "g": "b"}, {"t": 30.6, "v": -2.2, "g": "c"}, {"t": 30.6, "v": -4.4, "g": "c"}, {"t": 421.8, "v": -2.2, "g": "d"}, {"t": 421.8, "v": -4.4, "g": "d"}]}, "mark": {"type": "line", "color": "#e8101a", "strokeWidth": 1.6}, "encoding": {"detail": {"field": "g", "type": "nominal"}}},
{"data": {"values": [{"t": 33.5, "v": -3.36}, {"t": 425.2, "v": -3.36}]}, "mark": {"type": "point", "shape": "triangle-left", "filled": true, "size": 45, "color": "#e8101a", "opacity": 1}},
{"data": {"values": [{"t": 418.3, "v": -3.36}, {"t": 810, "v": -3.36}]}, "mark": {"type": "point", "shape": "triangle-right", "filled": true, "size": 45, "color": "#e8101a", "opacity": 1}},
{"data": {"values": [{"t": 166.5, "t2": 277.3, "v": -1.99, "v2": -4.27}, {"t": 563.7, "t2": 672.9, "v": -1.99, "v2": -4.27}]}, "mark": {"type": "rect", "fill": "white", "stroke": "#e83030", "strokeWidth": 1, "cornerRadius": 5}, "encoding": {"x2": {"field": "t2"}, "y2": {"field": "v2"}}},
{"data": {"values": [{"t": 221.9, "v": -3.13, "s": "Statcom operation"}, {"t": 618.3, "v": -3.13, "s": "Conversion resumed"}]}, "mark": {"type": "text", "align": "center", "baseline": "middle", "font": "Liberation Serif", "fontSize": 14, "color": "#e8101a"}, "encoding": {"text": {"field": "s", "type": "nominal"}}}
]},
{"width": 1283, "height": 66.8,
"encoding": {
"x": {"field": "t", "type": "quantitative", "scale": {"domain": [-201, 814], "nice": false, "zero": false}, "axis": {"tickCount": 51, "labels": false, "ticks": false, "domain": false, "title": null, "grid": true, "gridColor": {"condition": {"test": "datum.value % 100 === 0", "value": "#a0a0a0"}, "value": "#c4c4c4"}, "gridDash": {"condition": {"test": "datum.value % 100 === 0", "value": [3, 3]}, "value": [1, 5]}}},
"y": {"field": "v", "type": "quantitative", "scale": {"domain": [-242.2, 265], "nice": false, "zero": false}, "axis": {"orient": "right", "offset": -3, "values": [-200, -100, 0, 100], "labelExpr": "datum.value + ' V'", "labelAlign": "right", "labelPadding": 0, "ticks": false, "domain": false, "grid": false, "title": null, "labelColor": "#3cb464", "labelFont": "DejaVu Sans", "labelFontSize": 9, "labelOverlap": false}}},
"layer": [
{"data": {"values": [{"t": -201, "v": 0}, {"t": 814, "v": 0}]}, "mark": {"type": "line", "color": "#8a8a8a", "strokeDash": [4, 3], "strokeWidth": 1}},
{"data": {"values": [{"t": -201, "v": -242.2}, {"t": -201, "v": 265}]}, "mark": {"type": "line", "color": "#333", "strokeWidth": 3, "clip": true}},
{"data": {"name": "uanc"}, "mark": {"type": "line", "color": "#2fb45c", "strokeWidth": 1.6, "clip": true, "interpolate": "monotone"}},
{"data": {"values": [{"t": -198.2, "t2": 11.5, "v": 225.5, "v2": 88.8}]}, "mark": {"type": "rect", "fill": "white", "stroke": "#222", "strokeWidth": 1, "cornerRadius": 7}, "encoding": {"x2": {"field": "t2"}, "y2": {"field": "v2"}}},
{"data": {"values": [{"t": -191, "v": 157, "s": "Converter-side voltage of phase A\u00a0 (50V/div)"}]}, "mark": {"type": "text", "align": "left", "baseline": "middle", "font": "Liberation Serif", "fontSize": 14, "color": "#111"}, "encoding": {"text": {"field": "s", "type": "nominal"}}},
{"data": {"values": [{"t": -199, "t2": -178.4, "v": 53, "v2": -53}]}, "mark": {"type": "rect", "fill": "#e8f6ec", "stroke": "#50c080", "strokeWidth": 1, "cornerRadius": 3}, "encoding": {"x2": {"field": "t2"}, "y2": {"field": "v2"}}},
{"data": {"values": [{"t": -188.7, "v": 0, "s": "C7"}]}, "mark": {"type": "text", "align": "center", "baseline": "middle", "font": "DejaVu Sans", "fontSize": 8, "color": "#50c080"}, "encoding": {"text": {"field": "s", "type": "nominal"}}},
{"data": {"values": [{"t": -168, "v": 0, "s": "uANc"}]}, "mark": {"type": "text", "align": "left", "baseline": "middle", "font": "DejaVu Sans", "fontSize": 15, "color": "#50c080"}, "encoding": {"text": {"field": "s", "type": "nominal"}}}
]},
{"width": 1283, "height": 66.8,
"encoding": {
"x": {"field": "t", "type": "quantitative", "scale": {"domain": [-201, 814], "nice": false, "zero": false}, "axis": {"tickCount": 51, "labels": false, "ticks": false, "domain": false, "title": null, "grid": true, "gridColor": {"condition": {"test": "datum.value % 100 === 0", "value": "#a0a0a0"}, "value": "#c4c4c4"}, "gridDash": {"condition": {"test": "datum.value % 100 === 0", "value": [3, 3]}, "value": [1, 5]}}},
"y": {"field": "v", "type": "quantitative", "scale": {"domain": [-226.1, 287.7], "nice": false, "zero": false}, "axis": {"orient": "right", "offset": -3, "values": [-200, -100, 0, 100, 200], "labelExpr": "datum.value + ' V'", "labelAlign": "right", "labelPadding": 0, "ticks": false, "domain": false, "grid": false, "title": null, "labelColor": "#e0407a", "labelFont": "DejaVu Sans", "labelFontSize": 9, "labelOverlap": false}}},
"layer": [
{"data": {"values": [{"t": -201, "v": 0}, {"t": 814, "v": 0}]}, "mark": {"type": "line", "color": "#8a8a8a", "strokeDash": [4, 3], "strokeWidth": 1}},
{"data": {"values": [{"t": -201, "v": 287.7, "g": "a"}, {"t": -201, "v": -226.1, "g": "a"}, {"t": -201, "v": -226.1, "g": "b"}, {"t": 814, "v": -226.1, "g": "b"}]}, "mark": {"type": "line", "color": "#333", "strokeWidth": 3, "clip": true}, "encoding": {"detail": {"field": "g", "type": "nominal"}}},
{"data": {"name": "uang"}, "mark": {"type": "line", "color": "#e0306c", "strokeWidth": 1.6, "clip": true, "interpolate": "monotone"}},
{"data": {"values": [{"t": -198.2, "t2": -15.4, "v": 246.2, "v2": 107.7}]}, "mark": {"type": "rect", "fill": "white", "stroke": "#222", "strokeWidth": 1, "cornerRadius": 7}, "encoding": {"x2": {"field": "t2"}, "y2": {"field": "v2"}}},
{"data": {"values": [{"t": -191, "v": 177, "s": "Grid-side voltage of phase A\u00a0 (50V/div)"}]}, "mark": {"type": "text", "align": "left", "baseline": "middle", "font": "Liberation Serif", "fontSize": 14, "color": "#111"}, "encoding": {"text": {"field": "s", "type": "nominal"}}},
{"data": {"values": [{"t": -199, "t2": -178.4, "v": 54, "v2": -54}]}, "mark": {"type": "rect", "fill": "#e0306c", "stroke": "#e0306c", "strokeWidth": 1, "cornerRadius": 3}, "encoding": {"x2": {"field": "t2"}, "y2": {"field": "v2"}}},
{"data": {"values": [{"t": -188.7, "v": 0, "s": "C8"}]}, "mark": {"type": "text", "align": "center", "baseline": "middle", "font": "DejaVu Sans", "fontSize": 8, "color": "white"}, "encoding": {"text": {"field": "s", "type": "nominal"}}},
{"data": {"values": [{"t": -168, "v": 0, "s": "uANg"}]}, "mark": {"type": "text", "align": "left", "baseline": "middle", "font": "DejaVu Sans", "fontSize": 15, "color": "#e0407a"}, "encoding": {"text": {"field": "s", "type": "nominal"}}},
{"data": {"values": [{"t": -100, "v": -184.6, "s": "-100 ms"}, {"t": 0, "v": -184.6, "s": "0 s"}, {"t": 100, "v": -184.6, "s": "100 ms"}, {"t": 200, "v": -184.6, "s": "200 ms"}, {"t": 300, "v": -184.6, "s": "300 ms"}, {"t": 400, "v": -184.6, "s": "400 ms"}, {"t": 500, "v": -184.6, "s": "500 ms"}, {"t": 600, "v": -184.6, "s": "600 ms"}, {"t": 700, "v": -184.6, "s": "700 ms"}]}, "mark": {"type": "text", "align": "center", "baseline": "middle", "font": "DejaVu Sans", "fontSize": 9.5, "color": "#707070"}, "encoding": {"text": {"field": "s", "type": "nominal"}}}
]}
]
}
